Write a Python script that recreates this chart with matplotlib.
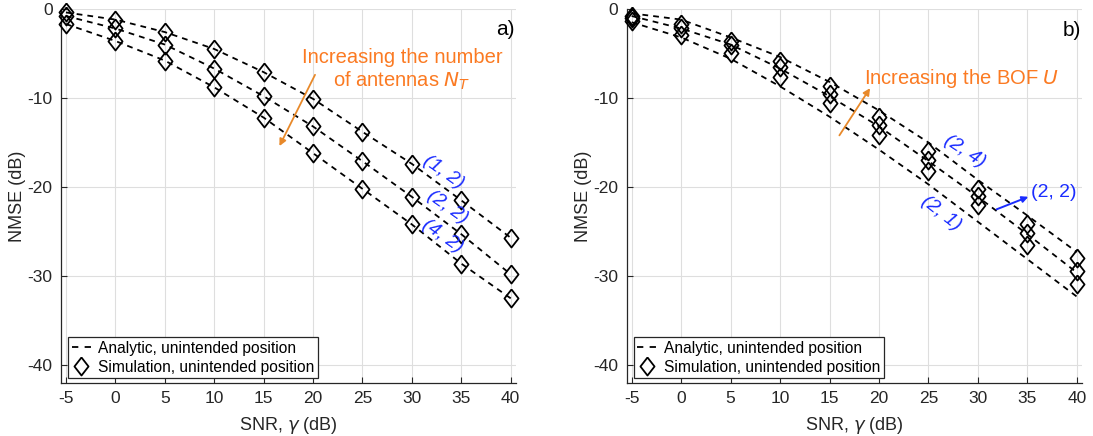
import matplotlib
matplotlib.use("Agg")
import matplotlib.pyplot as plt
from matplotlib.lines import Line2D

# SNR axis (dB)
snr = [-5, 0, 5, 10, 15, 20, 25, 30, 35, 40]

# panel a) simulation markers, (N_T, U)
sim_a_12 = [-0.4, -1.2, -2.6, -4.5, -7.1, -10.1, -13.8, -17.4, -21.5, -25.7]
sim_a_22 = [-0.8, -2.2, -4.0, -6.7, -9.8, -13.2, -17.1, -21.1, -25.3, -29.8]
sim_a_42 = [-1.7, -3.6, -5.8, -8.8, -12.2, -16.2, -20.2, -24.2, -28.6, -32.5]
# panel a) analytic curves (they sit on the markers)
ana_a_12 = [-0.4, -1.2, -2.6, -4.5, -7.1, -10.1, -13.8, -17.4, -21.5, -25.7]
ana_a_22 = [-0.8, -2.2, -4.0, -6.7, -9.8, -13.2, -17.1, -21.1, -25.3, -29.8]
ana_a_42 = [-1.7, -3.6, -5.8, -8.8, -12.2, -16.2, -20.2, -24.2, -28.6, -32.5]

# panel b) simulation markers
sim_b_24 = [-0.8, -1.7, -3.6, -5.8, -8.7, -12.1, -15.9, -20.2, -24.2, -28.0]
sim_b_22 = [-1.0, -2.1, -4.0, -6.5, -9.6, -13.0, -17.0, -21.0, -25.2, -29.4]
sim_b_21 = [-1.4, -2.9, -5.0, -7.6, -10.6, -14.2, -18.2, -22.0, -26.5, -30.9]
# panel b) analytic curves
ana_b_24 = [-0.5, -1.2, -3.2, -5.4, -8.2, -11.4, -15.0, -19.2, -23.2, -27.3]
ana_b_22 = [-0.8, -2.2, -4.0, -6.7, -9.8, -13.2, -17.1, -21.1, -25.3, -29.6]
ana_b_21 = [-1.5, -3.2, -5.6, -8.7, -12.1, -15.8, -19.7, -23.9, -28.1, -32.3]

x_ticks = [-5, 0, 5, 10, 15, 20, 25, 30, 35, 40]
y_ticks = [-40, -30, -20, -10, 0]

plt.rcParams['font.family'] = ['Liberation Sans', 'DejaVu Sans']
plt.rcParams['axes.unicode_minus'] = False

AX_COL = '#262626'
BLUE = '#1a2cff'
ORANGE_TXT = '#fb7a22'
ORANGE_ARR = '#e8892a'
DIAMOND = [(0, 1), (0.78, 0), (0, -1), (-0.78, 0), (0, 1)]
DASH = (0, (3.2, 2.8))


def setup_axes(ax):
    """MATLAB-like look: box off, light grid, inward ticks"""
    ax.set_xlim(-5.5, 40.5)
    ax.set_ylim(-42, 0)
    ax.set_xticks(x_ticks)
    ax.set_yticks(y_ticks)
    ax.grid(True, color='#dedede', lw=0.8)
    ax.set_axisbelow(True)
    for side in ('top', 'right'):
        ax.spines[side].set_visible(False)
    for side in ('left', 'bottom'):
        ax.spines[side].set_color(AX_COL)
        ax.spines[side].set_linewidth(0.9)
    ax.tick_params(direction='in', length=4, width=0.8, colors=AX_COL,
                   labelsize=12.5, pad=6)
    ax.set_xlabel(r'SNR, $\gamma$ (dB)', fontsize=13, color=AX_COL, labelpad=6)
    ax.set_ylabel('NMSE (dB)', fontsize=13, color=AX_COL, labelpad=1)
    handles = [Line2D([], [], color='k', ls=(0, (3.5, 3.5)), lw=1.3),
               Line2D([], [], color='k', ls='none', marker=DIAMOND,
                      markersize=13, mfc='none', mew=1.3)]
    leg = ax.legend(handles, ['Analytic, unintended position',
                              'Simulation, unintended position'],
                    loc='lower left', bbox_to_anchor=(0.015, 0.012),
                    borderaxespad=0, fontsize=11.2, fancybox=False,
                    framealpha=1, edgecolor=AX_COL, handlelength=1.25,
                    handletextpad=0.45, borderpad=0.25, labelspacing=0.25)
    leg.get_frame().set_linewidth(0.9)


def draw_series(ax, ana, sim):
    ax.plot(snr, ana, color='k', ls=DASH, lw=1.3, clip_on=False, zorder=3)
    ax.plot(snr, sim, ls='none', marker=DIAMOND, markersize=13, mfc='none',
            mec='k', mew=1.3, clip_on=False, zorder=4)


fig = plt.figure(figsize=(10.93, 4.36), dpi=100)
ax1 = fig.add_axes([0.0558, 0.1216, 0.416, 0.858])
ax2 = fig.add_axes([0.5734, 0.1216, 0.4163, 0.858])

# panel a)
setup_axes(ax1)
draw_series(ax1, ana_a_12, sim_a_12)
draw_series(ax1, ana_a_22, sim_a_22)
draw_series(ax1, ana_a_42, sim_a_42)
ax1.text(40.4, -2.3, 'a)', fontsize=15, ha='right', va='center')
ax1.text(29.0, -6.85, 'Increasing the number\nof antennas $N_T$', color=ORANGE_TXT,
         fontsize=14.5, ha='center', va='center', linespacing=1.15)
ax1.annotate('', xy=(16.6, -15.4), xytext=(20.2, -7.4),
             arrowprops=dict(arrowstyle='-|>', color=ORANGE_ARR, lw=1.3,
                             mutation_scale=10, shrinkA=0, shrinkB=0))
for lbl, (lx, ly) in zip(['(1, 2)', '(2, 2)', '(4, 2)'],
                         [(33.15, -18.3), (33.6, -22.2), (33.05, -25.5)]):
    ax1.text(lx, ly, lbl, color=BLUE, fontsize=14, style='italic',
             rotation=-35, ha='center', va='center', zorder=5)

# panel b)
setup_axes(ax2)
draw_series(ax2, ana_b_24, sim_b_24)
draw_series(ax2, ana_b_22, sim_b_22)
draw_series(ax2, ana_b_21, sim_b_21)
ax2.text(40.4, -2.45, 'b)', fontsize=15, ha='right', va='center')
ax2.text(28.4, -7.8, 'Increasing the BOF $U$', color=ORANGE_TXT,
         fontsize=14.5, ha='center', va='center')
ax2.annotate('', xy=(19.1, -8.9), xytext=(16.0, -14.2),
             arrowprops=dict(arrowstyle='-|>', color=ORANGE_ARR, lw=1.3,
                             mutation_scale=10, shrinkA=0, shrinkB=0))
ax2.text(28.7, -16.0, '(2, 4)', color=BLUE, fontsize=14, style='italic',
         rotation=-33, ha='center', va='center', zorder=5)
ax2.text(26.25, -22.9, '(2, 1)', color=BLUE, fontsize=14, style='italic',
         rotation=-38, ha='center', va='center', zorder=5)
ax2.text(37.7, -20.6, '(2, 2)', color=BLUE, fontsize=14,
         ha='center', va='center', zorder=5)
ax2.annotate('', xy=(35.1, -21.1), xytext=(31.9, -22.5),
             arrowprops=dict(arrowstyle='-|>', color=BLUE, lw=1.4,
                             mutation_scale=9, shrinkA=0, shrinkB=0))

fig.savefig('out.png', dpi=100)
